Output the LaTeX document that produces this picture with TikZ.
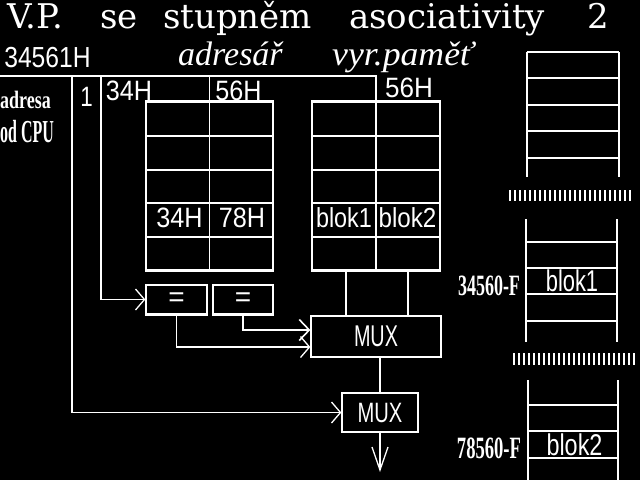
\documentclass[tikz,border=0pt]{standalone}
\usepackage{fontspec}
\usepackage{graphicx}
\usetikzlibrary{arrows.meta,calc}
\newfontfamily\titlefont{DejaVu Serif}
\newfontfamily\vecfont{Liberation Sans}
\newfontfamily\serfont{Liberation Serif}
\newcommand{\sx}[2]{\scalebox{#1}[1]{#2}}
\begin{document}
\begin{tikzpicture}[x=1pt,y=-1pt,
  wl/.style={draw=white,line width=1.3pt},
  thick line/.style={draw=white,line width=2.2pt},
  box/.style={draw=white,line width=1.3pt,rectangle,inner sep=0pt,text=white,
    font=\vecfont\fontsize{28}{28}\selectfont},
  arr/.style={draw=white,line width=1.3pt,-{Straight Barb[length=9pt,width=21pt,line width=1.3pt]}},
  arrb/.style={draw=white,line width=2.2pt,-{Straight Barb[length=10pt,width=21pt,line width=1.6pt]}},
  downarr/.style={draw=white,line width=1.3pt,-{Straight Barb[length=23pt,width=16pt,line width=1.3pt]}},
  lab/.style={text=white,inner sep=0pt,anchor=base},
  vlab/.style={lab,font=\vecfont\fontsize{28}{28}\selectfont},
  clab/.style={lab,font=\serfont\bfseries\fontsize{31}{31}\selectfont},
  ilab/.style={lab,anchor=base west,font=\serfont\itshape\fontsize{34}{34}\selectfont},
]
\useasboundingbox (0,0) rectangle (640,480);
\fill[black] (0,0) rectangle (640,480);

% title
\node[lab,anchor=base west,font=\titlefont\fontsize{34}{34}\selectfont] (title) at (7,28)
  {\makebox[93pt][l]{V.P.}\makebox[63pt][l]{se}\makebox[186pt][l]{stupněm}\makebox[238pt][l]{asociativity}2};

% headings
\node[vlab,font=\vecfont\fontsize{29}{29}\selectfont] (addr) at (47.5,67) {\sx{0.85}{34561H}};
\node[ilab] (hdir) at (178,65) {adresář};
\node[ilab] (hmem) at (332,65) {\sx{1.05}{vyr.paměť}};
\node[lab,anchor=base west,font=\serfont\bfseries\fontsize{25}{25}\selectfont] (cpu1) at (0,108) {\sx{0.72}{adresa}};
\node[lab,anchor=base west,font=\serfont\bfseries\fontsize{32}{32}\selectfont] (cpu2) at (0,142) {\sx{0.5}{od CPU}};
\node[vlab] (f1) at (86.5,106) {\sx{0.8}{1}};
\node[vlab] (f2) at (129,100) {\sx{0.9}{34H}};
\node[vlab] (f3) at (238.5,100) {\sx{0.9}{56H}};
\node[vlab] (f4) at (409,97) {\sx{0.93}{56H}};

% directory and data memory
\node[box,minimum width=127pt,minimum height=168pt] (dir) at (209.5,186) {};
\node[box,minimum width=128pt,minimum height=168pt] (mem) at (376,186) {};
\foreach \y in {136,170,203,237} {
  \draw[wl] (dir.west |- 0,\y) -- (dir.east |- 0,\y);
  \draw[wl] (mem.west |- 0,\y) -- (mem.east |- 0,\y);
}
\draw[thick line] (dir.north west) -- (dir.north east);
\draw[thick line] (dir.south west) -- (dir.south east);
\draw[thick line] (mem.north west) -- (mem.north east);
\draw[thick line] (mem.south west) -- (mem.south east);
\draw[wl] (dir.north) -- (dir.south);
\draw[wl] (mem.north) -- (mem.south);
\node[vlab] (t34) at (179.5,227) {\sx{0.9}{34H}};
\node[vlab] (t78) at (242,227) {\sx{0.9}{78H}};
\node[vlab,font=\vecfont\fontsize{27.5}{27.5}\selectfont] (b1) at (344,227) {\sx{0.85}{blok1}};
\node[vlab,font=\vecfont\fontsize{27.5}{27.5}\selectfont] (b2) at (407.5,227) {\sx{0.88}{blok2}};

% comparators and multiplexers
\node[box,minimum width=61pt,minimum height=29pt] (eq1) at (176.5,299.5) {=};
\node[box,minimum width=60pt,minimum height=29pt] (eq2) at (243,299.5) {=};
\draw[thick line] (eq1.south west) -- (eq1.south east);
\draw[thick line] (eq2.south west) -- (eq2.south east);
\node[box,minimum width=130pt,minimum height=41pt,font=\vecfont\fontsize{30}{30}\selectfont] (mux1) at (376,336.5) {\sx{0.66}{MUX}};
\node[box,minimum width=76pt,minimum height=39pt] (mux2) at (380,412.5) {\sx{0.72}{MUX}};

% address bus
\coordinate (bus) at (0,76);
\coordinate (t1) at (72,76);
\coordinate (t2) at (101,76);
\coordinate (out) at (380,472);
\draw[wl] (bus) -| (mem.north);
\draw[wl] (dir.north |- bus) -- (dir.north);
\draw[arr] (t1) |- (mux2.west);
\draw[arr] (t2) |- (eq1.west);
\draw[arr] (eq1.south) |- ($(mux1.west)+(0,10.5)$);
\draw[arrb] (eq2.south) |- ($(mux1.west)+(0,-6.5)$);
\draw[wl] ($(mem.south)+(-30,0)$) -- ($(mux1.north)+(-30,0)$);
\draw[wl] ($(mem.south)+(32,0)$) -- ($(mux1.north)+(32,0)$);
\draw[wl] (mux2.north |- mux1.south) -- (mux2.north);
\draw[downarr] (mux2.south) -- (out);

% main memory column
\draw[wl] (527,52) -- (619,52);
\foreach \y in {78,105,131,158} \draw[wl] (527,\y) -- (619,\y);
\draw[wl] (527,52) -- (527,177);
\draw[wl] (619,52) -- (619,177);
\foreach \i in {0,...,24} \draw[wl] (510+5*\i,190) -- (510+5*\i,201);
\draw[wl] (526,219) -- (526,342);
\draw[wl] (617,219) -- (617,342);
\foreach \y in {242,268,294,321} \draw[wl] (526,\y) -- (617,\y);
\foreach \i in {0,...,24} \draw[wl] (514+5*\i,353) -- (514+5*\i,365);
\draw[wl] (528,380) -- (528,480);
\draw[wl] (618,380) -- (618,480);
\foreach \y in {405,431,458} \draw[wl] (528,\y) -- (618,\y);
\node[vlab,font=\vecfont\fontsize{30}{30}\selectfont] (m1) at (572,291) {\sx{0.73}{blok1}};
\node[vlab,font=\vecfont\fontsize{30}{30}\selectfont] (m2) at (574.5,455) {\sx{0.78}{blok2}};
\node[clab,font=\serfont\bfseries\fontsize{29.5}{29.5}\selectfont] (a1) at (489,295) {\sx{0.61}{34560-F}};
\node[clab,font=\serfont\bfseries\fontsize{31}{31}\selectfont] (a2) at (489,458) {\sx{0.6}{78560-F}};
\end{tikzpicture}
\end{document}
